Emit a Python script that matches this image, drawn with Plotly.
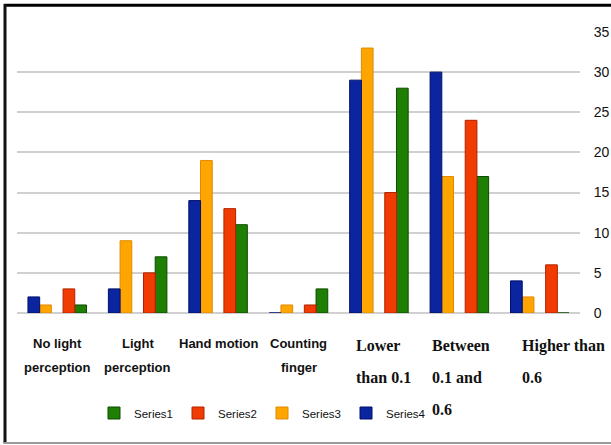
import plotly.graph_objects as go

# ---------------- data ----------------
categories = ["No light perception", "Light perception", "Hand motion", "Counting finger",
              "Lower than 0.1", "Between 0.1 and 0.6", "Higher than 0.6"]
label_lines = [["No light", "perception"], ["Light", "perception"], ["Hand motion"],
               ["Counting", "finger"], ["Lower", "than 0.1"], ["Between", "0.1 and", "0.6"],
               ["Higher than", "0.6"]]
series_names = ["Series1", "Series2", "Series3", "Series4"]
series1 = [1, 7, 11, 3, 28, 17, 0]
series2 = [3, 5, 13, 1, 15, 24, 6]
series3 = [1, 9, 19, 1, 33, 17, 2]
series4 = [2, 3, 14, 0, 29, 30, 4]
y_ticks = [0, 5, 10, 15, 20, 25, 30, 35]

# ---------------- style ----------------
W, H = 611, 445
ML, MR, MT, MB = 17, 31, 32, 132
PW, PH = W - ML - MR, H - MT - MB

SANS = "Liberation Sans, Arial, sans-serif"
SERIF = "Liberation Serif, Times New Roman, serif"

bw = 0.1455  # bar width in category units
styles = {
    "Series1": dict(color="#1f7f05", line="#0d4a00", offset=1.5 * bw),
    "Series2": dict(color="#f03c02", line="#b32000", offset=0.5 * bw),
    "Series3": dict(color="#ffa502", line="#e08a00", offset=-1.5 * bw),
    "Series4": dict(color="#0b24a0", line="#001066", offset=-2.5 * bw),
}
values = {"Series1": series1, "Series2": series2, "Series3": series3, "Series4": series4}

fig = go.Figure()
for name in series_names:
    s = styles[name]
    fig.add_trace(go.Bar(
        x=categories, y=values[name], name=name,
        width=bw, offset=s["offset"],
        marker=dict(color=s["color"], line=dict(color=s["line"], width=1)),
    ))

# category labels (sans for the first four, serif left-aligned for the last three)
sans_tops = [21, 44.5]
serif_tops = [22, 54, 86]
serif_xshift = {4: -25, 5: -29, 6: -20}
annotations = []
for i, lines in enumerate(label_lines):
    serif = i >= 4
    for j, line in enumerate(lines):
        annotations.append(dict(
            x=i, xref="x", y=0, yref="paper",
            text=line, showarrow=False,
            xanchor="left" if serif else "center", yanchor="top",
            xshift=serif_xshift.get(i, 0),
            yshift=-(serif_tops[j] if serif else sans_tops[j]),
            font=dict(family=SERIF if serif else SANS, size=16 if serif else 13,
                      color="#111111", weight="bold"),
        ))

def px_x(px):
    return (px - ML) / PW

def px_y(py):
    return (H - MB - py) / PH

shapes = [
    dict(type="line", xref="paper", yref="paper", x0=px_x(4), x1=px_x(W + 2),
         y0=px_y(5.3), y1=px_y(5.3), line=dict(color="#000000", width=3)),
    dict(type="line", xref="paper", yref="paper", x0=px_x(5), x1=px_x(5),
         y0=px_y(4), y1=px_y(443.5), line=dict(color="#111111", width=3)),
    dict(type="line", xref="paper", yref="paper", x0=px_x(4), x1=px_x(W + 2),
         y0=px_y(443), y1=px_y(443), line=dict(color="#9a9a9a", width=2)),
]

fig.update_layout(
    width=W, height=H,
    margin=dict(l=ML, r=MR, t=MT, b=MB, pad=0),
    paper_bgcolor="white", plot_bgcolor="white",
    barmode="overlay",
    showlegend=True,
    legend=dict(orientation="h", xref="container", yref="container",
                x=431 / W, xanchor="right", y=(H - 413) / H, yanchor="middle",
                font=dict(family=SANS, size=11.5, color="#111111"),
                itemwidth=30, traceorder="normal"),
    xaxis=dict(type="category", range=[-0.5, 6.5], showticklabels=False,
               showgrid=False, showline=False, zeroline=False, ticks=""),
    yaxis=dict(side="right", range=[0, 35], tickvals=y_ticks,
               ticks="outside", ticklen=10, tickcolor="rgba(0,0,0,0)",
               tickangle=0, ticklabelposition="outside", automargin=False,
               showgrid=True, gridcolor="#d0d0d0", gridwidth=1.5,
               zeroline=True, zerolinecolor="#d0d0d0", zerolinewidth=1.5,
               showline=False,
               tickfont=dict(family=SANS, size=14, color="#111111")),
    annotations=annotations,
    shapes=shapes,
)

fig.write_html("out.html", config={"displayModeBar": False},
               post_script="document.body.style.margin='0px';")
